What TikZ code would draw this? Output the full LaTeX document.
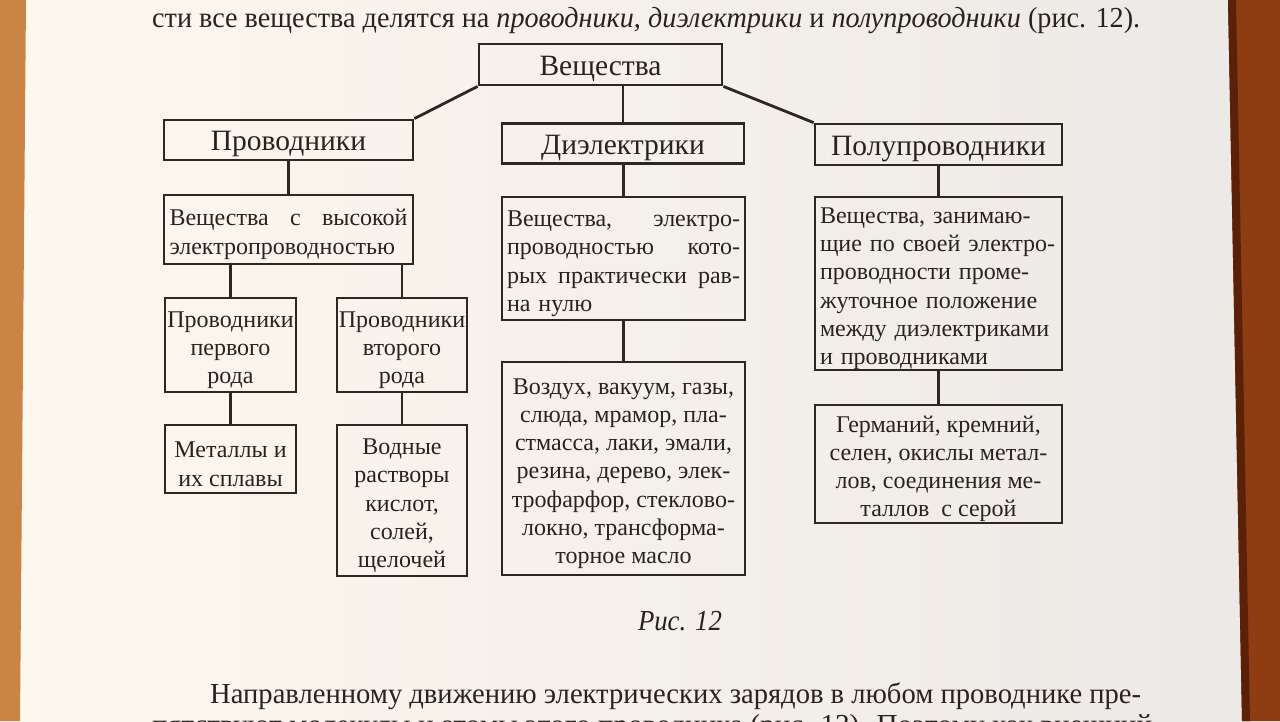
\documentclass[tikz,border=0pt]{standalone}
\usepackage{fontspec}
\usepackage{graphicx}
\setmainfont{Liberation Serif}
\definecolor{paperL}{HTML}{FDF8EE}
\definecolor{paperR}{HTML}{ECE8E6}
\definecolor{woodL}{HTML}{C98446}
\definecolor{woodR}{HTML}{8E3C12}
\definecolor{woodD}{HTML}{5A2008}
\definecolor{ink}{HTML}{2A2220}
\definecolor{linec}{HTML}{2E2622}
\newcommand{\jline}[2]{\makebox[#1]{#2}}
\newcommand{\tstrut}{\rule{0pt}{26pt}}
\begin{document}
\begin{tikzpicture}[x=1pt,y=-1pt,
  frame/.style={draw=linec, line width=2.8pt, inner sep=0pt, text=ink},
  box/.style={frame, align=center, font=\fontsize{24}{28.3}\selectfont},
  head/.style={frame, font=\fontsize{29.5}{34}\selectfont, text height=21pt, text depth=0pt},
  conn/.style={draw=linec, line width=2.8pt},
  pagetext/.style={inner sep=0pt, text=ink, font=\fontsize{29}{34}\selectfont}]
\useasboundingbox (0,0) rectangle (1280,721);
\clip (0,0) rectangle (1280,721);
% background
\shade[left color=paperL, right color=paperR] (0,0) rectangle (1280,721);
\fill[woodL] (0,0) -- (26,0) -- (20,721) -- (0,721) -- cycle;
\fill[woodR] (1228,0) -- (1280,0) -- (1280,721) -- (1242,721) -- cycle;
\fill[woodD] (1228,0) -- (1236,0) -- (1250,721) -- (1242,721) -- cycle;

% page text
\node[pagetext, anchor=base west] (tl) at (152,27)
  {\resizebox{988pt}{\height}{сти все вещества делятся на \textit{проводники}, \textit{диэлектрики} и \textit{полупроводники} (рис. 12).}};
\node[pagetext, anchor=base] (cap) at (680,630)
  {\resizebox{84pt}{\height}{\textit{Рис. 12}}};
\node[pagetext, anchor=base west] (bl) at (210,703)
  {\resizebox{931pt}{\height}{Направленному движению электрических зарядов в любом проводнике пре-}};
\node[pagetext, anchor=base west] (bl2) at (152,734)
  {\resizebox{1000pt}{\height}{пятствуют молекулы и атомы этого проводника (рис. 13). Поэтому как внешний}};

% boxes
\node[head, minimum width=243pt, minimum height=41pt] (top) at (600.5,64.5) {Вещества};
\node[head, minimum width=249pt, minimum height=40pt] (prov) at (288.5,140) {Проводники};
\node[head, minimum width=242pt, minimum height=40pt] (diel) at (623,143.5) {Диэлектрики};
\node[head, minimum width=247pt, minimum height=41pt] (semi) at (938.5,144.5) {Полупроводники};

\node[box, minimum width=249pt, minimum height=69pt, text width=238pt, align=left] (provd) at (288.5,229.5)
  {\tstrut\jline{238pt}{Вещества\hfill с\hfill высокой}\\электропроводностью};
\node[box, minimum width=243pt, minimum height=123pt, text width=233pt, align=left] (dield) at (623.5,258.5)
  {\tstrut\jline{233pt}{Вещества,\hfill электро-}\\\jline{233pt}{проводностью\hfill кото-}\\\jline{233pt}{рых\hfill практически\hfill рав-}\\на нулю};
\node[box, minimum width=247pt, minimum height=173pt, text width=237pt, align=left] (semid) at (938.5,283.5)
  {\tstrut Вещества, занимаю-\\щие по своей электро-\\проводности проме-\\жуточное положение\\между диэлектриками\\и проводниками};

\node[box, minimum width=131pt, minimum height=94pt] (p1) at (230.5,345) {\tstrut Проводники\\первого\\рода};
\node[box, minimum width=130pt, minimum height=94pt] (p2) at (402,345) {\tstrut Проводники\\второго\\рода};
\node[box, minimum width=243pt, minimum height=213pt] (dielx) at (623.5,468.5)
  {\tstrut Воздух, вакуум, газы,\\слюда, мрамор, пла-\\стмасса, лаки, эмали,\\резина, дерево, элек-\\трофарфор, стеклово-\\локно, трансформа-\\торное масло};
\node[box, minimum width=247pt, minimum height=118pt] (semix) at (938.5,464)
  {\tstrut Германий, кремний,\\селен, окислы метал-\\лов, соединения ме-\\таллов~ с серой};

\node[box, minimum width=131pt, minimum height=68pt] (m1) at (230.5,459) {\tstrut Металлы и\\их сплавы};
\node[box, minimum width=130pt, minimum height=151pt] (m2) at (402,500.5) {\tstrut Водные\\растворы\\кислот,\\солей,\\щелочей};

% connectors
\draw[conn] (top.south west) -- (prov.north east);
\draw[conn] (top.south east) -- (semi.north west);
\draw[conn] (diel.north) -- (diel.north |- top.south);
\draw[conn] (provd.north) -- (provd.north |- prov.south);
\draw[conn] (dield.north) -- (dield.north |- diel.south);
\draw[conn] (semid.north) -- (semid.north |- semi.south);
\draw[conn] (p1.north) -- (p1.north |- provd.south);
\draw[conn] (p2.north) -- (p2.north |- provd.south);
\draw[conn] (dielx.north) -- (dielx.north |- dield.south);
\draw[conn] (semix.north) -- (semix.north |- semid.south);
\draw[conn] (m1.north) -- (m1.north |- p1.south);
\draw[conn] (m2.north) -- (m2.north |- p2.south);
\end{tikzpicture}
\end{document}
